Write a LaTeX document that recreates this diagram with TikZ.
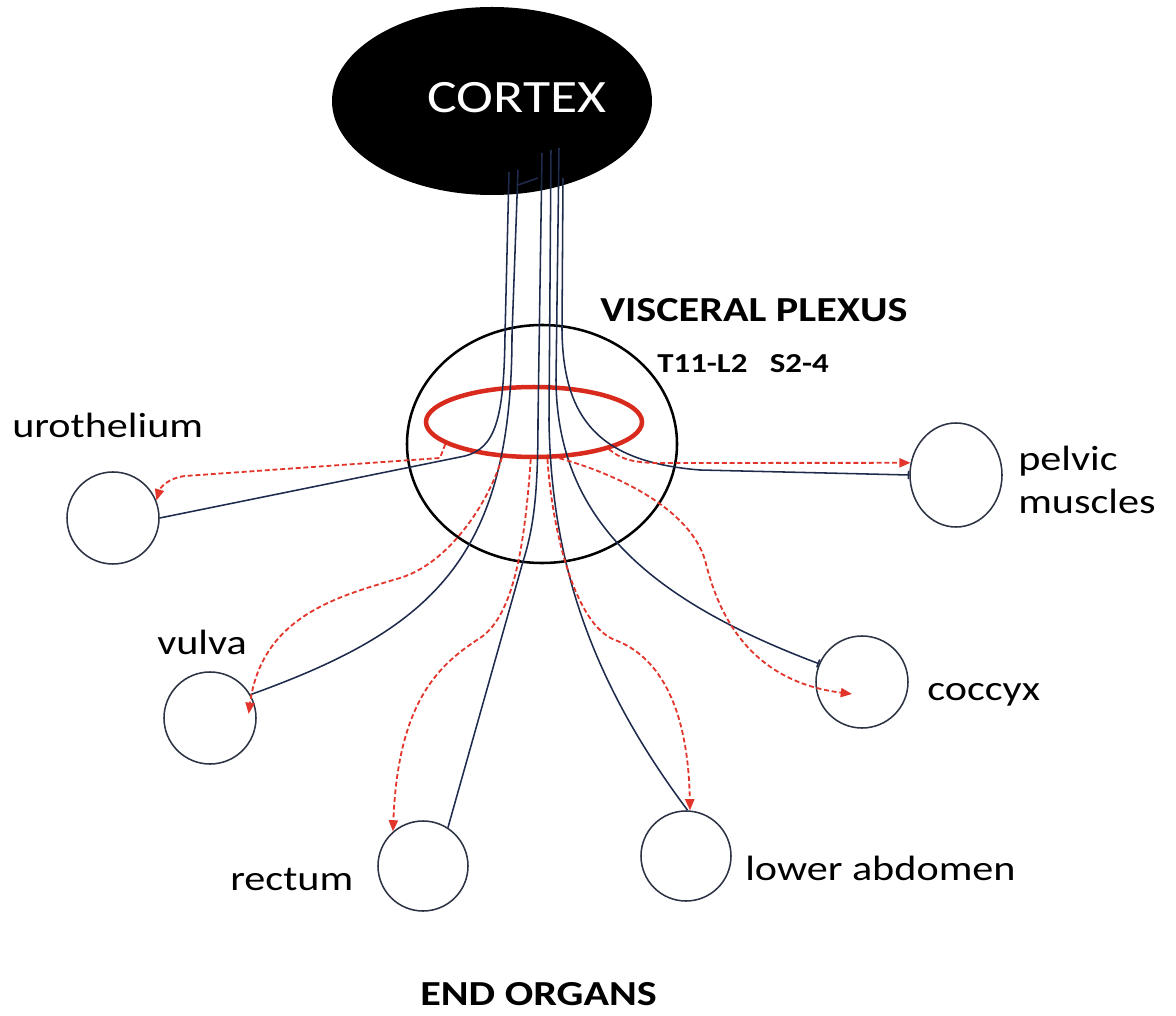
\documentclass[tikz,border=0pt]{standalone}
\usepackage{fontspec}
\setmainfont{Carlito}[FakeStretch=1.2]
\usetikzlibrary{arrows.meta,shapes.geometric,calc}
\definecolor{nervec}{HTML}{1F2B4D}
\definecolor{organc}{HTML}{2C3344}
\definecolor{ringc}{HTML}{D92A1E}
\definecolor{sigc}{HTML}{E2352B}

\begin{document}
\begin{tikzpicture}[
  x=0.25mm, y=-0.25mm,
  font=\fontsize{25}{30}\selectfont,
  organ/.style={circle, draw=organc, line width=1.1pt, minimum size=23mm, inner sep=0pt},
  nerve/.style={draw=nervec, line width=1.1pt},
  signal/.style={draw=sigc, line width=1.3pt, dash pattern=on 3.5pt off 2pt, -{Triangle[length=8pt,width=6.5pt]}},
  lbl/.style={anchor=base west, inner sep=0pt, text=black},
  head/.style={anchor=base west, inner sep=0pt, font=\fontsize{25}{30}\selectfont\bfseries},
]
\useasboundingbox (0,0) rectangle (1176,1016);
% cortex on top, plexus with its ring in the middle
\node[ellipse, fill=black, minimum width=80mm, minimum height=47mm, inner sep=0pt] (cortex) at (492,101) {};
\node[text=white, anchor=base, font=\fontsize{33}{40}\selectfont] (ctxlbl) at (517,113) {CORTEX};
\node[ellipse, draw=black, line width=1.8pt, minimum width=67.5mm, minimum height=59.5mm, inner sep=0pt] (plexus) at (542,444) {};
\node[ellipse, draw=ringc, line width=3.2pt, minimum width=54mm, minimum height=17.5mm, inner sep=0pt] (ring) at (534,422) {};
\node[head] (plxlbl) at (600,322) {VISCERAL PLEXUS};
\node[head, font=\fontsize{19.5}{24}\selectfont\bfseries] (seglbl) at (657,373) {T11-L2\ \ \ S2-4};
% end organs
\node[organ] (uro) at (113,518) {};
\node[organ] (vul) at (210,718) {};
\node[organ, minimum size=22.5mm] (rec) at (423,866) {};
\node[organ, minimum size=22.5mm] (abd) at (686,856) {};
\node[organ] (coc) at (862,682) {};
\node[organ, ellipse, minimum width=23mm, minimum height=26mm] (pel) at (956,475) {};
\node[lbl] (urolbl) at (12,438) {urothelium};
\node[lbl] (vullbl) at (157,655) {vulva};
\node[lbl] (reclbl) at (230,890) {rectum};
\node[lbl] (abdlbl) at (745,880) {lower abdomen};
\node[lbl] (coclbl) at (927,700) {coccyx};
\node[lbl, anchor=west, align=left] (pellbl) at (1018,480) {pelvic\\muscles};
\node[head] (endlbl) at (420,1005) {END ORGANS};
% nerve fibres leaving the cortex
\coordinate (n1) at (509,172);
\coordinate (n2) at (518,170);
\coordinate (n3) at (542,153);
\coordinate (n4) at (551,150);
\coordinate (n5) at (559,148);
\coordinate (n6) at (563,178);
\draw[nerve] (518,185) -- (538,178);
\draw[nerve] (n1) -- (505,335) .. controls (504,420) and (495,448) .. (465,456) -- (uro.east);
\draw[nerve] (n2) -- (512,335) .. controls (512,560) and (430,630) .. (vul.30);
\draw[nerve] (n3) -- (538,420) .. controls (538,500) and (533,530) .. (522,565) -- (rec.57);
\draw[nerve] (n4) -- (549,420) .. controls (551,560) and (590,680) .. (abd.88);
\draw[nerve, -{Bar[width=6pt]}] (n5) -- (556,380) .. controls (557,520) and (650,600) .. (coc.157);
\draw[nerve, -{Bar[width=6pt]}] (n6) -- (562,330) .. controls (563,420) and (600,462) .. (700,470) -- (pel.west);
% red dashed signals from the ring
\draw[signal] (ring.194) -- (440,458) -- (185,476) .. controls (168,478) and (160,488) .. (uro.22);
\draw[signal] (ring.228) .. controls (490,500) and (450,563) .. (400,578) .. controls (340,596) and (262,615) .. ([xshift=-2mm]vul.5);
\draw[signal] (ring.265) .. controls (525,540) and (515,615) .. (480,638) .. controls (440,664) and (398,700) .. (rec.131);
\draw[signal] (ring.290) .. controls (552,530) and (575,625) .. (615,640) .. controls (655,655) and (688,700) .. (abd.85);
\draw[signal] (ring.305) .. controls (620,475) and (690,510) .. (705,560) .. controls (715,600) and (740,680) .. ($(coc.center)+(-10,12)$);
\draw[signal] (ring.340) .. controls (620,458) and (630,463) .. (660,463) -- (pel.165);
\end{tikzpicture}
\end{document}
